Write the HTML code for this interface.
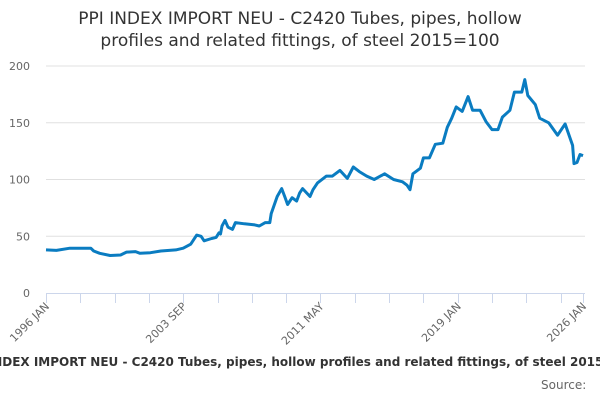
<!DOCTYPE html>
<html><head><meta charset="utf-8"><style>
body{margin:0;background:#fff;width:600px;height:400px;overflow:hidden;font-family:"DejaVu Sans","Liberation Sans",sans-serif;}
</style></head><body>
<svg width="600" height="400" xmlns="http://www.w3.org/2000/svg" font-family="DejaVu Sans, Liberation Sans, sans-serif">
<g id="root"></g>
</svg>
<script>
const monthIdx=[0,7,16,30,32,36,43,50,54,60,63,70,77,87,92,97,101,104,106,111,114,116,117,118,120,122,125,127,133,140,143,147,150,151,155,158,160,162,165,168,170,172,177,179,182,188,192,197,202,206,210,215,220,227,233,239,242,244,246,251,253,257,261,266,269,272,275,279,283,286,291,295,299,303,306,311,314,319,321,323,328,331,337,343,348,353,354,356,358,360];
const values=[38,37.5,39.5,39.5,37,35,33,33.5,36,36.5,35,35.5,37,38,39.5,43,51,50,46,48,49,53,52,59,64,58,56,62,61,60,59,62,62,70,85,92,85,78,84,81,88,92,85,91,97,103,103,108,101,111,107,103,100,105,100,98,95,91,105,110,119,119,131,132,146,154,164,160,173,161,161,151,144,144,155,161,177,177,188,174,166,154,150,139,149,130,114,115,122,121];
const yTicks=[0,50,100,150,200];
const xTickLabels=["1996 JAN","2003 SEP","2011 MAY","2019 JAN","2026 JAN"];
const xLabelMonths=[0,92,184,276,360];
</script>
<script>
const NS="http://www.w3.org/2000/svg";
const root=document.getElementById('root');
const X0=46,X1=583,Y0=293,Y200=66;
const xs=m=>X0+(X1-X0)*m/360;
const ys=v=>Y0-(Y0-Y200)*v/200;
function mk(t,a){const e=document.createElementNS(NS,t);for(const k in a)e.setAttribute(k,a[k]);root.appendChild(e);return e;}
const t=mk('text',{x:300,y:24,'text-anchor':'middle','font-size':17,fill:'#333'});


t.innerHTML='<tspan x="300" y="24">PPI INDEX IMPORT NEU - C2420 Tubes, pipes, hollow</tspan><tspan x="300" y="46">profiles and related fittings, of steel 2015=100</tspan>';
yTicks.forEach(v=>{
 if(v>0){const g=mk('line',{x1:X0,x2:X1+2,y1:ys(v),y2:ys(v),stroke:'#e0e0e0','stroke-width':1});
 
 }
 const l=mk('text',{x:30,y:ys(v)+4,'text-anchor':'end','font-size':11,fill:'#666'});
 
 
 l.textContent=v;
});
const ax=mk('line',{x1:X0,x2:X1+2,y1:Y0+0.5,y2:Y0+0.5,stroke:'#ccd6eb','stroke-width':1});


for(let m=0;m<=360;m+=23){
 const x=Math.round(xs(m))+0.5;
 const tk=mk('line',{x1:x,x2:x,y1:Y0,y2:Y0+10,stroke:'#ccd6eb'});
 
 
}
const tkEnd=mk('line',{x1:X1+0.5,x2:X1+0.5,y1:Y0,y2:Y0+10,stroke:'#ccd6eb'});


xTickLabels.forEach((s,i)=>{
 const x=xs(xLabelMonths[i])+4,y=Y0+14;
 const l=mk('text',{x:x,y:y,'text-anchor':'end','font-size':11,fill:'#666',transform:`rotate(-45 ${x} ${y})`});
 
 
 l.textContent=s;
});
const pts=monthIdx.map((m,i)=>xs(m).toFixed(1)+','+ys(values[i]).toFixed(1)).join(' ');
const pl=mk('polyline',{points:pts,fill:'none',stroke:'#0a7cc1','stroke-width':3,'stroke-linejoin':'round'});


const cap=mk('text',{x:300,y:366,'text-anchor':'middle','font-size':12,'font-weight':'bold',fill:'#333'});


cap.textContent='PPI INDEX IMPORT NEU - C2420 Tubes, pipes, hollow profiles and related fittings, of steel 2015=100';
const src=mk('text',{x:541,y:389,'font-size':12,fill:'#666'});


src.textContent='Source: ';
</script>
</body></html>
